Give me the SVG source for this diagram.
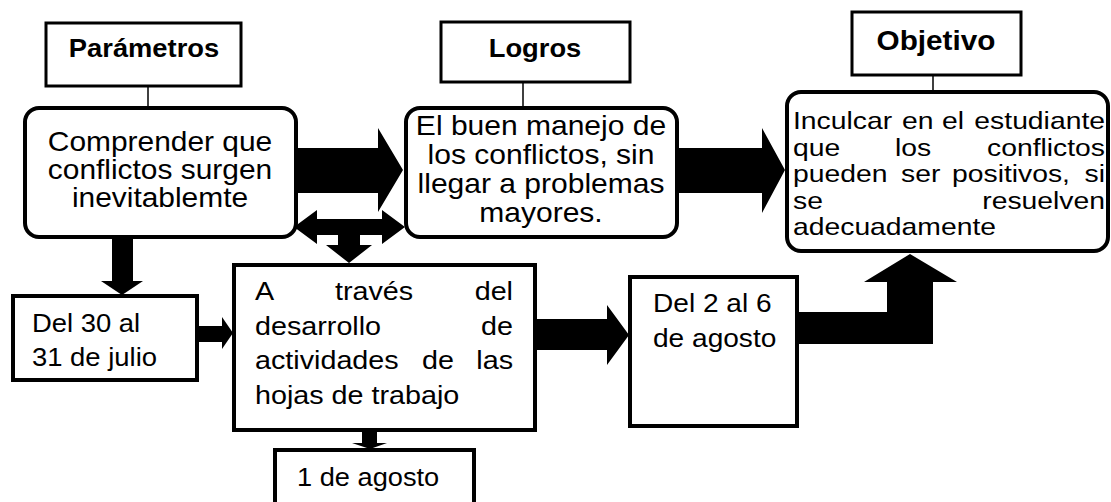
<svg xmlns="http://www.w3.org/2000/svg" width="1111" height="502" viewBox="0 0 1111 502">
<style>
.t{font-family:"Liberation Sans",Arial,sans-serif;fill:#000}
.b{font-weight:bold}
.m{text-anchor:middle}
.e{text-anchor:end}
.box{fill:#fff;stroke:#000;stroke-width:4}
.hdr{fill:#fff;stroke:#000;stroke-width:3}
.ln{stroke:#000;stroke-width:1.5;fill:none}
.ar{fill:#000;stroke:none}
</style>
<rect width="1111" height="502" fill="#fff"/>
<g id="connectors">
<line class="ln" x1="148" y1="86" x2="148" y2="108"/>
<line class="ln" x1="523" y1="82" x2="523" y2="108"/>
<line class="ln" x1="933" y1="75" x2="933" y2="92"/>
<polygon class="ar" points="296,148 378,148 378,128 403,170 378,212 378,193 296,193"/>
<polygon class="ar" points="677,148 762,148 762,128 785,170 762,213 762,193 677,193"/>
<polygon class="ar" points="294,227 317,210 317,219 382,219 382,210 405,227 382,244 382,235 360,235 360,245 372,245 349,263 326,245 338,245 338,235 317,235 317,244"/>
<polygon class="ar" points="112,237 133,237 133,281 143,281 122,295 101,281 112,281"/>
<polygon class="ar" points="197,326 222,326 222,317 233,333 222,349 222,342 197,342"/>
<polygon class="ar" points="535,319 607,319 607,305 629,335 607,365 607,350 535,350"/>
<polygon class="ar" points="797,312 887,312 887,282 864,282 910,254 957,282 933,282 933,344 797,344"/>
<polygon class="ar" points="362,430 377,430 377,443 387,443 370,449 352,443 362,443"/>
</g>
<g id="parametros">
<rect class="hdr" x="46" y="23" width="195" height="63"/>
<text class="t b m" font-size="25.3" transform="translate(144,57) scale(1.08,1)">Parámetros</text>
</g>
<g id="logros">
<rect class="hdr" x="441" y="22" width="189" height="60"/>
<text class="t b m" font-size="25.3" transform="translate(535,57) scale(1.08,1)">Logros</text>
</g>
<g id="objetivo">
<rect class="hdr" x="852" y="12" width="169" height="63"/>
<text class="t b m" font-size="27.5" transform="translate(936,50) scale(1.08,1)">Objetivo</text>
</g>
<g id="comprender">
<rect class="box" x="25" y="108" width="271" height="129" rx="14"/>
<g font-size="27.7">
<text class="t m" transform="translate(160,151) scale(1.08,1)">Comprender que</text>
<text class="t m" transform="translate(160,179) scale(1.08,1)">conflictos surgen</text>
<text class="t m" transform="translate(160,207) scale(1.08,1)">inevitablemte</text>
</g>
</g>
<g id="buen-manejo">
<rect class="box" x="406" y="108" width="271" height="129" rx="14"/>
<g font-size="27.8">
<text class="t m" transform="translate(541,135) scale(1.08,1)">El buen manejo de</text>
<text class="t m" transform="translate(541,164) scale(1.08,1)">los conflictos, sin</text>
<text class="t m" transform="translate(541,193) scale(1.08,1)">llegar a problemas</text>
<text class="t m" transform="translate(541,222) scale(1.08,1)">mayores.</text>
</g>
</g>
<g id="inculcar">
<rect class="box" x="787" y="92" width="321" height="159" rx="14"/>
<g font-size="24">
<text class="t" transform="translate(793,129) scale(1.18,1)">Inculcar</text>
<text class="t" transform="translate(902,129) scale(1.18,1)">en</text>
<text class="t" transform="translate(942,129) scale(1.18,1)">el</text>
<text class="t e" transform="translate(1105,129) scale(1.18,1)">estudiante</text>
<text class="t" transform="translate(793,156) scale(1.18,1)">que</text>
<text class="t" transform="translate(895,156) scale(1.18,1)">los</text>
<text class="t e" transform="translate(1105,156) scale(1.18,1)">conflictos</text>
<text class="t" transform="translate(793,182) scale(1.18,1)">pueden</text>
<text class="t" transform="translate(901,182) scale(1.18,1)">ser</text>
<text class="t" transform="translate(952,182) scale(1.18,1)">positivos,</text>
<text class="t e" transform="translate(1105,182) scale(1.18,1)">si</text>
<text class="t" transform="translate(793,209) scale(1.18,1)">se</text>
<text class="t e" transform="translate(1105,209) scale(1.18,1)">resuelven</text>
<text class="t" transform="translate(793,235) scale(1.18,1)">adecuadamente</text>
</g>
</g>
<g id="del-30">
<rect class="box" x="13" y="296" width="184" height="84" stroke-width="3.5"/>
<text class="t" font-size="25.4" transform="translate(32,332) scale(1.08,1)">Del 30 al</text>
<text class="t" font-size="25.4" transform="translate(32,366) scale(1.08,1)">31 de julio</text>
</g>
<g id="a-traves">
<rect class="box" x="234" y="265" width="301" height="165"/>
<g font-size="26.6">
<text class="t" transform="translate(255,300) scale(1.08,1)">A</text>
<text class="t" transform="translate(335,300) scale(1.08,1)">través</text>
<text class="t e" transform="translate(513,300) scale(1.08,1)">del</text>
<text class="t" transform="translate(255,335) scale(1.08,1)">desarrollo</text>
<text class="t e" transform="translate(513,335) scale(1.08,1)">de</text>
<text class="t" transform="translate(255,369) scale(1.08,1)">actividades</text>
<text class="t" transform="translate(422,369) scale(1.08,1)">de</text>
<text class="t e" transform="translate(513,369) scale(1.08,1)">las</text>
<text class="t" transform="translate(255,404) scale(1.08,1)">hojas de trabajo</text>
</g>
</g>
<g id="del-2">
<rect class="box" x="630" y="277" width="167" height="149"/>
<text class="t" font-size="26" transform="translate(653,312) scale(1.08,1)">Del 2 al 6</text>
<text class="t" font-size="26" transform="translate(653,347) scale(1.08,1)">de agosto</text>
</g>
<g id="uno-agosto">
<rect class="box" x="275" y="450" width="199" height="60"/>
<text class="t" font-size="25.2" transform="translate(297,486) scale(1.08,1)">1 de agosto</text>
</g>
</svg>
